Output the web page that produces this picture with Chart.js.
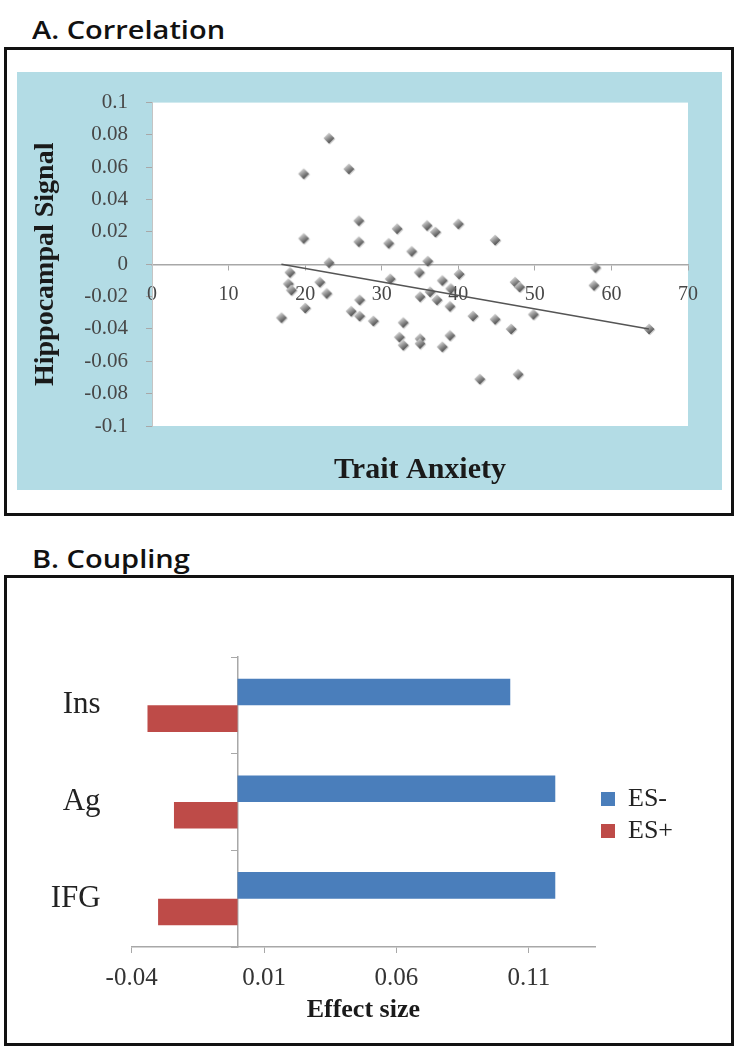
<!DOCTYPE html>
<html><head><meta charset="utf-8">
<script src="https://cdn.jsdelivr.net/npm/chart.js@4.4.1/dist/chart.umd.min.js"></script>
<style>
html,body{margin:0;padding:0;background:#fff;width:738px;height:1050px;overflow:hidden;}
.box{position:absolute;border:3px solid #111;box-sizing:border-box;}
.head{position:absolute;font-family:"Open Sans",sans-serif;font-size:25px;font-weight:600;color:#111;line-height:25px;transform:scaleX(1.16);transform-origin:0 0;white-space:nowrap;}
#wrapA{position:absolute;left:17px;top:72px;width:705px;height:418px;background:#b3dce5;}
#wrapB{position:absolute;left:7px;top:578px;width:724px;height:465px;}
</style></head>
<body>
<div class="head" style="left:32px;top:17px">A. Correlation</div>
<div class="box" style="left:4px;top:47px;width:730px;height:469px"></div>
<div id="wrapA"><canvas id="cA"></canvas></div>
<div class="head" style="left:32px;top:546px">B. Coupling</div>
<div class="box" style="left:4px;top:575px;width:730px;height:471px"></div>
<div id="wrapB"><canvas id="cB"></canvas></div>
<script>
// ---------- Panel A data ----------
const anxiety = [16.9,18.0,17.8,18.2,19.8,19.8,20.0,21.9,22.8,23.1,23.1,25.7,26.0,27.0,27.0,27.1,27.1,28.9,30.9,31.1,32.0,32.8,32.3,32.8,33.9,34.9,35.0,35.0,35.0,35.9,36.0,36.3,37.0,37.2,37.9,37.9,38.9,38.9,39.0,40.0,40.1,41.9,42.8,44.8,44.8,46.9,47.4,48.0,47.8,49.8,57.9,57.7,64.9];
const signal = [-0.033,-0.005,-0.012,-0.016,0.016,0.056,-0.027,-0.011,-0.018,0.001,0.078,0.059,-0.029,0.027,0.014,-0.022,-0.032,-0.035,0.013,-0.009,0.022,-0.036,-0.045,-0.050,0.008,-0.005,-0.020,-0.046,-0.049,0.024,0.002,-0.017,0.020,-0.022,-0.010,-0.051,-0.026,-0.044,-0.015,0.025,-0.006,-0.032,-0.071,0.015,-0.034,-0.040,-0.011,-0.014,-0.068,-0.031,-0.002,-0.013,-0.040];
const trendX = [16.9, 64.9];
const trendY = [0.0, -0.040];
const xTicksA = [0,10,20,30,40,50,60,70];
const xTickLabelsA = ['0','10','20','30','40','50','60','70'];
const yTicksA = [-0.1,-0.08,-0.06,-0.04,-0.02,0,0.02,0.04,0.06,0.08,0.1];
const yTickLabelsA = ['-0.1','-0.08','-0.06','-0.04','-0.02','0','0.02','0.04','0.06','0.08','0.1'];

// ---------- Panel B data ----------
const regions = ['Ins','Ag','IFG'];
const esMinus = [0.103, 0.120, 0.120];
const esPlus = [-0.034, -0.024, -0.030];
const xTicksB = [-0.04, 0.01, 0.06, 0.11];
const xTickLabelsB = ['-0.04','0.01','0.06','0.11'];

const serif = '"Liberation Serif", "Times New Roman", serif';
Chart.defaults.font.family = serif;
Chart.defaults.animation = false;

const areaBg = {
  id: 'areaBg',
  beforeDraw(chart, args, opts) {
    if (!opts.color) return;
    const {ctx, chartArea: a} = chart;
    ctx.save(); ctx.fillStyle = opts.color;
    ctx.fillRect(a.left, a.top, a.right - a.left, a.bottom - a.top);
    ctx.restore();
  }
};

function makeMarker() {
  const c = document.createElement('canvas');
  c.width = 14; c.height = 14;
  const g = c.getContext('2d');
  function diamond(cx, cy, r) {
    g.beginPath(); g.moveTo(cx, cy - r); g.lineTo(cx + r, cy); g.lineTo(cx, cy + r); g.lineTo(cx - r, cy); g.closePath(); g.fill();
  }
  g.fillStyle = 'rgba(0,0,0,0.18)';
  diamond(8, 8, 5.5);
  const grad = g.createLinearGradient(3, 2, 10, 12);
  grad.addColorStop(0, '#eeeeee');
  grad.addColorStop(0.45, '#9c9c9c');
  grad.addColorStop(1, '#3a3a3a');
  g.fillStyle = grad;
  diamond(7, 7, 5.5);
  return c;
}
const marker = makeMarker();

const tickColor = '#474747';
const axisGray = '#a8a8a8';

new Chart(document.getElementById('cA'), {
  type: 'scatter',
  data: {
    datasets: [
      {
        label: 'Hippocampal Signal',
        data: anxiety.map((x, i) => ({x: x, y: signal[i]})),
        pointStyle: marker,
        pointRadius: 6,
        order: 2
      },
      {
        type: 'line',
        label: 'Trend',
        data: trendX.map((x, i) => ({x: x, y: trendY[i]})),
        borderColor: '#555555',
        borderWidth: 1.6,
        pointRadius: 0,
        fill: false,
        order: 1
      }
    ]
  },
  options: {
    responsive: true,
    maintainAspectRatio: false,
    layout: {padding: {left: 0, top: 22, right: 34, bottom: 0}},
    plugins: {legend: {display: false}, tooltip: {enabled: false}, areaBg: {color: '#ffffff'}},
    scales: {
      x: {
        type: 'linear', position: {y: 0}, min: 0, max: 70,
        afterBuildTicks: s => { s.ticks = xTicksA.map(v => ({value: v})); },
        afterFit: s => { s.height = 0; },
        ticks: {callback: (v, i) => xTickLabelsA[i], color: tickColor, font: {family: serif, size: 20}, padding: 13, maxRotation: 0, autoSkip: false},
        grid: {drawOnChartArea: false, color: axisGray, tickLength: 5},
        border: {color: axisGray, width: 1.5}
      },
      xt: {
        type: 'linear', position: 'bottom', min: 0, max: 70,
        afterFit: s => { s.height = 64; },
        ticks: {display: false},
        grid: {display: false},
        border: {display: false},
        title: {display: true, text: 'Trait Anxiety', color: '#1a1a1a', font: {family: serif, size: 30, weight: 'bold'}, padding: {top: 0, bottom: 2}}
      },
      y: {
        type: 'linear', position: 'left', min: -0.1, max: 0.1,
        afterBuildTicks: s => { s.ticks = yTicksA.map(v => ({value: v})); },
        afterFit: s => { s.width = 135; },
        ticks: {callback: (v, i) => yTickLabelsA[i], color: tickColor, font: {family: serif, size: 21}, padding: 18},
        grid: {drawOnChartArea: false, color: axisGray, tickLength: 6},
        border: {color: '#c4c4c4'},
        title: {display: true, text: 'Hippocampal Signal', color: '#1a1a1a', font: {family: serif, size: 28, weight: 'bold'}, padding: {top: 12, bottom: 0}}
      }
    }
  },
  plugins: [areaBg]
});

new Chart(document.getElementById('cB'), {
  type: 'bar',
  data: {
    labels: regions,
    datasets: [
      {label: 'ES-', data: esMinus, backgroundColor: '#4a7ebb', borderWidth: 0},
      {label: 'ES+', data: esPlus, backgroundColor: '#be4b48', borderWidth: 0}
    ]
  },
  options: {
    indexAxis: 'y',
    responsive: true,
    maintainAspectRatio: false,
    layout: {padding: {left: 0, top: 79, right: 56, bottom: 0}},
    datasets: {bar: {categoryPercentage: 0.55, barPercentage: 1.0}},
    plugins: {
      tooltip: {enabled: false},
      legend: {
        position: 'right', fullSize: false, maxWidth: 80,
        title: {display: true, text: ' ', font: {family: serif, size: 10}, padding: {top: 0, bottom: 14}},
        labels: {boxWidth: 14, boxHeight: 14, padding: 6, color: '#222', font: {family: serif, size: 26}}
      }
    },
    scales: {
      x: {
        type: 'linear', position: 'bottom', min: -0.04, max: 0.135,
        afterBuildTicks: s => { s.ticks = xTicksB.map(v => ({value: v})); },
        afterFit: s => { s.height = 96; },
        ticks: {callback: (v, i) => xTickLabelsB[i], color: '#333', font: {family: serif, size: 25}, padding: 10, maxRotation: 0, autoSkip: false},
        grid: {drawOnChartArea: false, color: axisGray, tickLength: 6},
        border: {color: axisGray, width: 1.5},
        title: {display: true, text: 'Effect size', color: '#1a1a1a', font: {family: serif, size: 26, weight: 'bold'}, padding: {top: 0, bottom: 17}}
      },
      y: {
        type: 'category', position: 'left',
        afterFit: s => { s.width = 124.6; },
        ticks: {color: '#222', font: {family: serif, size: 31}, padding: 31},
        grid: {display: false, drawTicks: false},
        border: {display: false}
      },
      yz: {
        type: 'category', axis: 'y', position: {x: 0}, offset: true,
        afterFit: s => { s.width = 0; },
        ticks: {display: false},
        grid: {drawOnChartArea: false, offset: true, color: axisGray, tickLength: 6},
        border: {color: axisGray, width: 1.5}
      }
    }
  }
});
</script>
</body></html>
